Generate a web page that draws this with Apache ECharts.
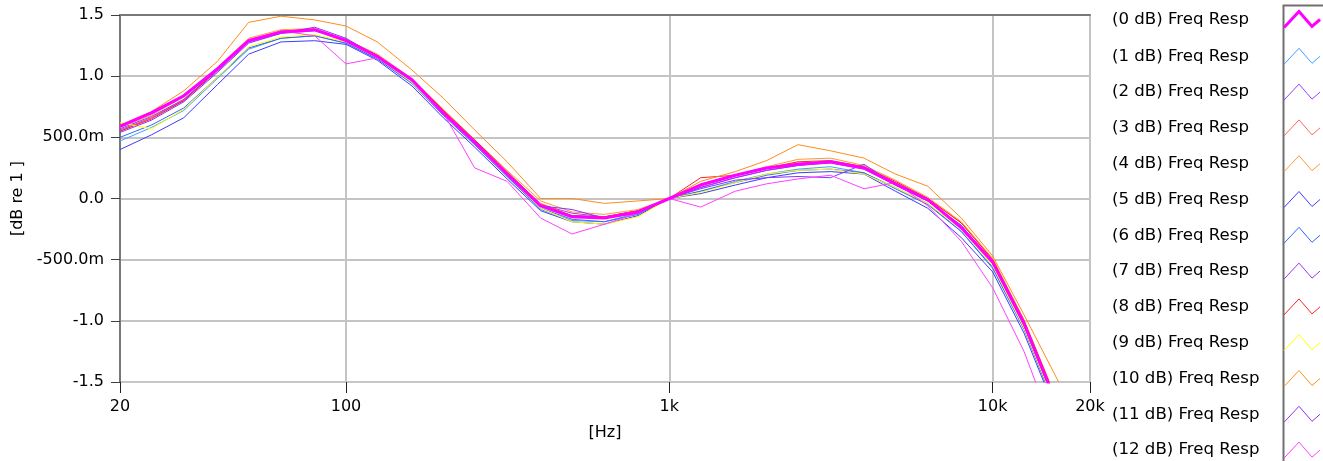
<!DOCTYPE html>
<html>
<head>
<meta charset="utf-8">
<script src="https://cdn.jsdelivr.net/npm/echarts@6/dist/echarts.min.js"></script>
<style>
html,body{margin:0;padding:0;background:#fff;}
#chart{width:1323px;height:461px;}
</style>
</head>
<body>
<div id="chart"></div>
<script>
const freqs = [20,25,31.5,40,50,63,80,100,125,160,200,250,315,400,500,630,800,1000,1250,1600,2000,2500,3150,4000,5000,6300,8000,10000,12500,16000];
const seriesNames = ['(0 dB) Freq Resp','(1 dB) Freq Resp','(2 dB) Freq Resp','(3 dB) Freq Resp','(4 dB) Freq Resp','(5 dB) Freq Resp','(6 dB) Freq Resp','(7 dB) Freq Resp','(8 dB) Freq Resp','(9 dB) Freq Resp','(10 dB) Freq Resp','(11 dB) Freq Resp','(12 dB) Freq Resp'];
const colors = ['#ff00ff','#3fa0ff','#9a3cff','#ff6464','#ff9933','#3c3cff','#3366ff','#9933ff','#ff2020','#ffff00','#ff8c1a','#8833ff','#ff40ff'];
const yTicks = [-1.5,-1.0,-0.5,0,0.5,1.0,1.5];

const resp0  = [0.59,0.70,0.84,1.06,1.29,1.36,1.38,1.29,1.16,0.97,0.70,0.46,0.20,-0.06,-0.15,-0.16,-0.11,0.00,0.11,0.19,0.25,0.28,0.30,0.25,0.12,-0.01,-0.24,-0.52,-1.02,-1.72];
const resp1  = [0.47,0.58,0.72,0.98,1.22,1.31,1.33,1.27,1.14,0.95,0.69,0.44,0.18,-0.09,-0.18,-0.19,-0.12,0.00,0.06,0.14,0.20,0.24,0.26,0.21,0.09,-0.04,-0.27,-0.56,-1.06,-1.78];
const resp2  = [0.56,0.66,0.80,1.04,1.28,1.35,1.37,1.29,1.16,0.96,0.70,0.46,0.20,-0.05,-0.12,-0.15,-0.10,0.00,0.09,0.17,0.23,0.27,0.30,0.25,0.12,-0.02,-0.22,-0.53,-1.03,-1.74];
const resp3  = [0.55,0.66,0.81,1.05,1.29,1.36,1.38,1.29,1.17,0.97,0.72,0.47,0.21,-0.04,-0.14,-0.15,-0.10,0.00,0.12,0.19,0.25,0.29,0.30,0.25,0.13,0.00,-0.20,-0.50,-1.00,-1.70];
const resp4  = [0.58,0.68,0.83,1.07,1.31,1.38,1.39,1.30,1.18,0.98,0.73,0.48,0.23,-0.02,-0.11,-0.13,-0.09,0.00,0.11,0.19,0.26,0.32,0.33,0.27,0.15,0.01,-0.19,-0.49,-0.99,-1.68];
const resp5  = [0.40,0.52,0.66,0.93,1.18,1.28,1.29,1.26,1.13,0.92,0.66,0.42,0.16,-0.10,-0.19,-0.21,-0.14,0.00,0.04,0.11,0.17,0.21,0.22,0.20,0.06,-0.08,-0.32,-0.60,-1.10,-1.80];
const resp6  = [0.50,0.60,0.74,0.99,1.23,1.31,1.33,1.27,1.14,0.94,0.68,0.44,0.18,-0.08,-0.17,-0.19,-0.13,0.00,0.06,0.13,0.19,0.23,0.24,0.21,0.08,-0.05,-0.27,-0.57,-1.07,-1.77];
const resp7  = [0.57,0.67,0.81,1.05,1.29,1.36,1.38,1.30,1.17,0.96,0.71,0.47,0.21,-0.06,-0.14,-0.16,-0.11,0.00,0.09,0.17,0.23,0.27,0.29,0.24,0.11,-0.02,-0.22,-0.52,-1.03,-1.73];
const resp8  = [0.55,0.65,0.80,1.05,1.29,1.37,1.38,1.29,1.17,0.97,0.72,0.48,0.22,-0.05,-0.14,-0.15,-0.10,0.00,0.17,0.19,0.25,0.30,0.31,0.26,0.14,0.00,-0.20,-0.50,-1.00,-1.69];
const resp9  = [0.62,0.57,0.73,0.99,1.24,1.32,1.34,1.28,1.15,0.95,0.69,0.45,0.19,-0.08,-0.19,-0.21,-0.15,0.00,0.05,0.13,0.20,0.23,0.24,0.20,0.09,-0.04,-0.25,-0.55,-1.06,-1.76];
const resp10 = [0.60,0.71,0.88,1.12,1.44,1.49,1.46,1.41,1.28,1.05,0.82,0.56,0.30,0.00,0.00,-0.04,-0.02,0.00,0.14,0.22,0.31,0.44,0.39,0.33,0.20,0.10,-0.16,-0.47,-0.95,-1.50];
const resp11 = [0.54,0.64,0.79,1.03,1.27,1.35,1.40,1.31,1.16,0.96,0.70,0.46,0.20,-0.06,-0.09,-0.16,-0.12,0.00,0.08,0.15,0.17,0.18,0.17,0.28,0.11,-0.02,-0.23,-0.53,-1.04,-1.74];
const resp12 = [0.60,0.69,0.83,1.07,1.30,1.37,1.33,1.10,1.15,0.96,0.70,0.25,0.14,-0.16,-0.29,-0.21,-0.12,0.00,-0.07,0.06,0.12,0.16,0.19,0.08,0.13,-0.06,-0.35,-0.73,-1.25,-2.00];

const responses = [resp0,resp1,resp2,resp3,resp4,resp5,resp6,resp7,resp8,resp9,resp10,resp11,resp12];

const FONT = 'DejaVu Sans';
const chart = echarts.init(document.getElementById('chart'), null, {renderer:'canvas'});

function yFmt(v){
  if (Math.abs(v) < 1e-9) return '0.0';
  if (Math.abs(v) < 1) return (v*1000).toFixed(1) + 'm';
  return v.toFixed(1);
}
function xFmt(v){
  if (v >= 1000) return Math.round(v/1000) + 'k';
  return String(Math.round(v));
}

const series = responses.map((arr, k) => ({
  name: seriesNames[k],
  type: 'line',
  data: freqs.map((f, i) => [f, arr[i]]),
  showSymbol: false,
  symbol: 'none',
  smooth: false,
  clip: true,
  z: k === 0 ? 5 : 2,
  lineStyle: { color: colors[k], width: k === 0 ? 3 : 1 },
  itemStyle: { color: colors[k] },
  emphasis: { disabled: true }
}));

const legendData = seriesNames.map((n, k) => ({
  name: n,
  itemStyle: { color: 'transparent', borderColor: colors[k], borderWidth: k === 0 ? 3 : 1 }
}));

chart.setOption({
  animation: false,
  backgroundColor: '#ffffff',
  grid: { left: 120, right: 233, top: 15, bottom: 79, show: true, borderColor: '#c8c8c8', borderWidth: 1, backgroundColor: '#ffffff' },
  legend: {
    orient: 'vertical',
    left: 1112,
    top: 10,
    padding: 0,
    align: 'right',
    itemWidth: 36,
    itemHeight: 16,
    itemGap: 18.8,
    selectedMode: false,
    icon: 'path://M0,16L15,0L28,15L36,8',
    data: legendData,
    formatter: name => '{t|' + name + '}',
    textStyle: {
      fontFamily: FONT, fontSize: 16.6, color: '#000', lineHeight: 16,
      rich: { t: { width: 167, height: 16, align: 'left', fontFamily: FONT, fontSize: 16.6, color: '#000', lineHeight: 16 } }
    }
  },
  xAxis: [{
    type: 'log',
    logBase: 10,
    min: 20,
    max: 20000,
    name: '[Hz]',
    nameLocation: 'middle',
    nameGap: 43,
    nameTextStyle: { fontFamily: FONT, fontSize: 16, color: '#000' },
    axisLine: { show: true, onZero: false, lineStyle: { color: '#c8c8c8', width: 1 } },
    axisTick: { show: true, inside: false, length: 11, lineStyle: { color: '#202020', width: 1 } },
    axisLabel: { fontFamily: FONT, fontSize: 16, color: '#000', margin: 17, formatter: xFmt, showMinLabel: true, showMaxLabel: true },
    splitLine: { show: true, lineStyle: { color: '#c4c4c4', width: 2 } },
    minorTick: { show: false },
    minorSplitLine: { show: false }
  }, {
    type: 'log',
    logBase: 10,
    min: 20,
    max: 20000,
    position: 'top',
    axisLine: { show: true, onZero: false, lineStyle: { color: '#787878', width: 2 } },
    axisTick: { show: false },
    axisLabel: { show: false },
    splitLine: { show: false }
  }],
  yAxis: {
    type: 'value',
    min: -1.5,
    max: 1.5,
    interval: 0.5,
    name: '[dB re 1 ]',
    nameLocation: 'middle',
    nameRotate: 90,
    nameGap: 85,
    nameTextStyle: { fontFamily: FONT, fontSize: 16, color: '#000' },
    axisLine: { show: true, onZero: false, lineStyle: { color: '#787878', width: 2 } },
    axisTick: { show: true, length: 9, lineStyle: { color: '#404040', width: 1 } },
    axisLabel: { fontFamily: FONT, fontSize: 16, color: '#000', margin: 16, formatter: yFmt },
    splitLine: { show: true, lineStyle: { color: '#c4c4c4', width: 2 } }
  },
  graphic: [{
    type: 'rect',
    left: 1281,
    top: 3,
    shape: { width: 60, height: 480 },
    style: { fill: 'none', stroke: '#707070', lineWidth: 2 },
    silent: true
  }],
  series: series
});
</script>
</body>
</html>
